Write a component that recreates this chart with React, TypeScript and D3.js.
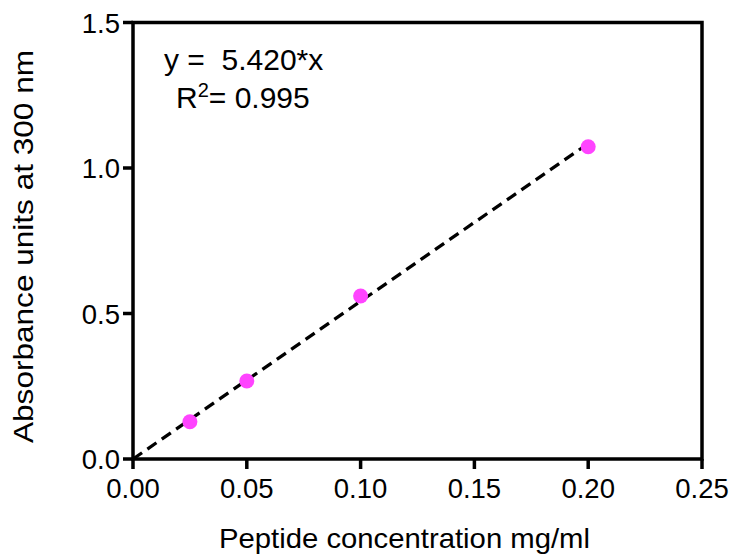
import React from "react";
import * as d3 from "d3";

const concentrations = [0.025, 0.05, 0.1, 0.2];
const absorbances = [0.128, 0.268, 0.56, 1.073];
const slope = 5.42;
const fitRange = [0, 0.2];
const xTicks = [0, 0.05, 0.1, 0.15, 0.2, 0.25];
const yTicks = [0, 0.5, 1.0, 1.5];

export default function App() {
  const W = 731, H = 556;
  const left = 133, right = 702, top = 22.5, bottom = 459;
  const x = d3.scaleLinear().domain([0, 0.25]).range([left, right]);
  const y = d3.scaleLinear().domain([0, 1.5]).range([bottom, top]);
  const line = d3.line<number>().x((d) => x(d)).y((d) => y(slope * d));
  const font = "Liberation Sans, Arial, sans-serif";
  return (
    <svg width={W} height={H} style={{ position: "absolute", left: 0, top: 0 }} fontFamily={font}>
      <rect width={W} height={H} fill="#fff" />
      <path d={line(fitRange) || ""} stroke="#000" strokeWidth={3.3} strokeDasharray="11,6.5" fill="none" />
      {concentrations.map((c, i) => (
        <circle key={i} cx={x(c)} cy={y(absorbances[i])} r={7.5} fill="#ff44ff" />
      ))}
      <rect x={left} y={top} width={right - left} height={bottom - top} fill="none" stroke="#000" strokeWidth={3.5} />
      {xTicks.map((t) => (
        <g key={"x" + t}>
          <line x1={x(t)} x2={x(t)} y1={bottom} y2={bottom + 10} stroke="#000" strokeWidth={3.5} />
          <text x={x(t)} y={498} textAnchor="middle" fontSize={27.5}>{d3.format(".2f")(t)}</text>
        </g>
      ))}
      {yTicks.map((t) => (
        <g key={"y" + t}>
          <line x1={left - 10} x2={left} y1={y(t)} y2={y(t)} stroke="#000" strokeWidth={3.5} />
          <text x={left - 13} y={y(t) + 10} textAnchor="end" fontSize={27.5}>{d3.format(".1f")(t)}</text>
        </g>
      ))}
      <text x={219} y={548} fontSize={28} textLength={371} lengthAdjust="spacingAndGlyphs">Peptide concentration mg/ml</text>
      <text transform={`translate(33,443) rotate(-90)`} fontSize={28} textLength={393} lengthAdjust="spacingAndGlyphs">Absorbance units at 300 nm</text>
      <text x={164} y={70} fontSize={30} xmlSpace="preserve">y =  5.420*x</text>
      <text x={176} y={108} fontSize={30}>R<tspan dy={-11} fontSize={20}>2</tspan><tspan dy={11}>= 0.995</tspan></text>
    </svg>
  );
}
